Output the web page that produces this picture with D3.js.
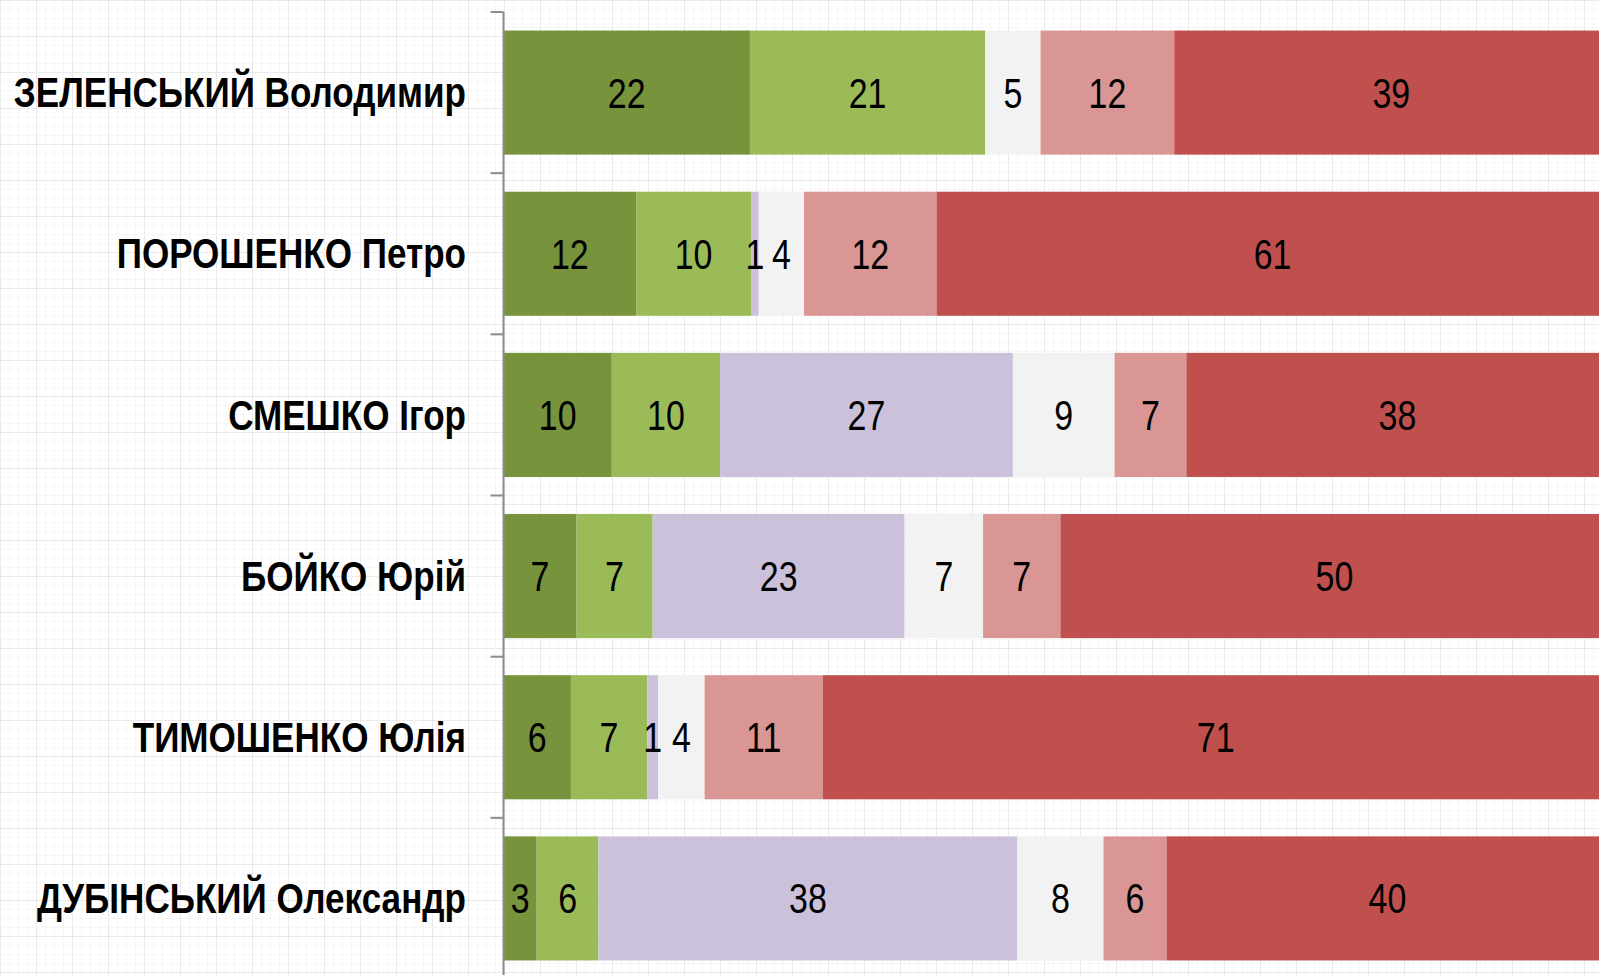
<!DOCTYPE html>
<html>
<head>
<meta charset="utf-8">
<script src="https://cdn.jsdelivr.net/npm/d3@7"></script>
<style>
  html, body { margin: 0; padding: 0; background: #fff; }
  svg { display: block; }
</style>
</head>
<body>
<svg id="chart" width="1599" height="975"></svg>
<script>
// ---- data ----
const categories = [
  "ЗЕЛЕНСЬКИЙ Володимир",
  "ПОРОШЕНКО Петро",
  "СМЕШКО Ігор",
  "БОЙКО Юрій",
  "ТИМОШЕНКО Юлія",
  "ДУБІНСЬКИЙ Олександр"
];
const seriesNames = ["s1", "s2", "s3", "s4", "s5", "s6"];
const s1 = [22.3, 12.0, 9.8, 6.6, 6.1, 3.0];
const s2 = [21.3, 10.4, 9.8, 6.9, 6.9, 5.6];
const s3 = [0.0, 0.7, 26.5, 22.8, 1.0, 37.9];
const s4 = [5.0, 4.1, 9.2, 7.1, 4.2, 7.8];
const s5 = [12.1, 12.0, 6.5, 7.0, 10.7, 5.7];
const s6 = [39.3, 60.8, 38.2, 49.6, 71.1, 40.0];
const colors = ["#77933C", "#9BBB59", "#CCC1DA", "#F2F2F2", "#D99694", "#C0504D"];

const seriesValues = [s1, s2, s3, s4, s5, s6];
const rows = categories.map((c, i) => {
  const o = { cat: c };
  seriesNames.forEach((s, k) => o[s] = seriesValues[k][i]);
  return o;
});

const svg = d3.select("#chart");
const W = 1599, H = 975;

// ---- background graph-paper pattern ----
const defs = svg.append("defs");
const pat = defs.append("pattern")
  .attr("id", "grid").attr("patternUnits", "userSpaceOnUse")
  .attr("width", 72).attr("height", 72);
pat.append("rect").attr("width", 72).attr("height", 72).attr("fill", "#ffffff");
for (let k = 0; k < 8; k++) {
  const p = k * 9 + 0.5;
  const major = (k % 4 === 0);
  const col = major ? "#e9e9e9" : "#f6f6f6";
  pat.append("line").attr("x1", p).attr("x2", p).attr("y1", 0).attr("y2", 72)
    .attr("stroke", col).attr("stroke-width", 1);
  pat.append("line").attr("y1", p).attr("y2", p).attr("x1", 0).attr("x2", 72)
    .attr("stroke", col).attr("stroke-width", 1);
}
svg.append("rect").attr("width", W).attr("height", H).attr("fill", "url(#grid)");

// ---- scales ----
const x = d3.scaleLinear().domain([0, 100]).range([503.5, 1608.5]);
const y = d3.scaleBand().domain(categories).range([12, 979])
  .paddingInner(0.23).paddingOuter(0.115);

const stack = d3.stack().keys(seriesNames);
const stacked = stack(rows);

const font = "'Liberation Sans', Arial, sans-serif";

// ---- bars ----
const g = svg.append("g");
stacked.forEach((layer, k) => {
  g.selectAll(null).data(layer).enter().append("rect")
    .attr("x", d => x(d[0]))
    .attr("y", d => y(d.data.cat))
    .attr("width", d => Math.max(0, x(d[1]) - x(d[0])))
    .attr("height", y.bandwidth())
    .attr("fill", colors[k]);
});

// ---- value labels (condensed via horizontal scale) ----
stacked.forEach((layer, k) => {
  g.selectAll(null).data(layer.filter(d => d[1] - d[0] > 0)).enter().append("text")
    .attr("transform", d => `translate(${(x(d[0]) + x(d[1])) / 2},${y(d.data.cat) + y.bandwidth() / 2}) scale(0.79,1)`)
    .attr("text-anchor", "middle")
    .attr("dominant-baseline", "central")
    .attr("font-family", font)
    .attr("font-size", 43)
    .attr("fill", "#000")
    .text(d => Math.round(d[1] - d[0] + 1e-9));
});

// ---- axis ----
const axisX = x(0);
const axisG = svg.append("g");
axisG.append("line")
  .attr("x1", axisX).attr("x2", axisX)
  .attr("y1", y.range()[0]).attr("y2", H)
  .attr("stroke", "#8c8c8c").attr("stroke-width", 2);
const tickPos = d3.range(categories.length + 1).map(i => y.range()[0] + i * y.step());
axisG.selectAll(null).data(tickPos).enter().append("line")
  .attr("x1", axisX - 13).attr("x2", axisX)
  .attr("y1", d => d).attr("y2", d => d)
  .attr("stroke", "#8c8c8c").attr("stroke-width", 2);

// ---- category labels ----
svg.append("g").selectAll(null).data(categories).enter().append("text")
  .attr("transform", d => `translate(466,${y(d) + y.bandwidth() / 2}) scale(0.835,1)`)
  .attr("text-anchor", "end")
  .attr("dominant-baseline", "central")
  .attr("font-family", font)
  .attr("font-weight", "bold")
  .attr("font-size", 42)
  .attr("fill", "#000")
  .text(d => d);
</script>
</body>
</html>
